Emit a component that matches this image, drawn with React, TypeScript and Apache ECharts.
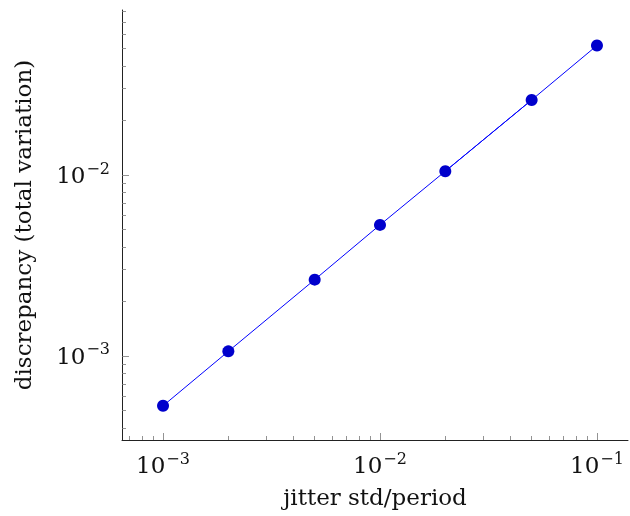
import React, { useEffect, useRef } from "react";
import * as echarts from "echarts";

const X_VALUES = [0.001, 0.002, 0.005, 0.01, 0.02, 0.05, 0.1];
const Y_VALUES = [5.3e-4, 1.06e-3, 2.64e-3, 5.3e-3, 1.05e-2, 2.6e-2, 5.2e-2];
const OVERLAP_X = [0.02, 0.05];
const OVERLAP_Y = [1.05e-2, 2.6e-2];

const X_MIN = 6.47e-4;
const X_MAX = 0.139;
const Y_MIN = 3.43e-4;
const Y_MAX = 0.0817;

const X_MAJOR = [1e-3, 1e-2, 1e-1];
const Y_MAJOR = [1e-3, 1e-2];
const X_MINOR = [7e-4, 8e-4, 9e-4, 2e-3, 3e-3, 4e-3, 5e-3, 6e-3, 7e-3, 8e-3, 9e-3, 2e-2, 3e-2, 4e-2, 5e-2, 6e-2, 7e-2, 8e-2, 9e-2];
const Y_MINOR = [4e-4, 5e-4, 6e-4, 7e-4, 8e-4, 9e-4, 2e-3, 3e-3, 4e-3, 5e-3, 6e-3, 7e-3, 8e-3, 9e-3, 2e-2, 3e-2, 4e-2, 5e-2, 6e-2, 7e-2, 8e-2];

const X_TITLE = "jitter std/period";
const Y_TITLE = "discrepancy (total variation)";

const FONT = "DejaVu Serif";

function powLabel(v: number) {
  const e = Math.round(Math.log10(v));
  return `{b|10}{s|${e < 0 ? "\u2212" : ""}${Math.abs(e)}}`;
}

const rich = {
  b: { fontFamily: FONT, fontSize: 23, color: "#111", lineHeight: 30 },
  s: { fontFamily: FONT, fontSize: 16, color: "#111", verticalAlign: "top", lineHeight: 30, padding: [0, 0, 12, 1] },
};

export default function App() {
  const ref = useRef<HTMLDivElement>(null);
  useEffect(() => {
    if (!ref.current) return;
    const chart = echarts.init(ref.current, undefined, { renderer: "svg" });
    const pairs = X_VALUES.map((x, i) => [x, Y_VALUES[i]]);
    const overlap = OVERLAP_X.map((x, i) => [x, OVERLAP_Y[i]]);
    const axisLineStyle = { color: "#222", width: 1 };
    const tickStyle = { color: "#777", width: 0.8 };
    chart.setOption({
      animation: false,
      grid: { left: 122, top: 10, right: 2, bottom: 76, containLabel: false, outerBoundsMode: "none" },
      xAxis: [
        {
          type: "log",
          logBase: 10,
          min: X_MIN,
          max: X_MAX,
          position: "bottom",
          name: X_TITLE,
          nameLocation: "middle",
          nameGap: 45,
          nameMoveOverlap: false,
          nameTextStyle: { fontFamily: FONT, fontSize: 23, color: "#111", verticalAlign: "top" },
          axisLine: { show: true, lineStyle: axisLineStyle },
          axisTick: { show: true, inside: true, length: 7, customValues: X_MAJOR, lineStyle: tickStyle },
          axisLabel: { show: true, customValues: X_MAJOR, formatter: powLabel, rich, margin: 10 },
          splitLine: { show: false },
          minorTick: { show: false },
        },
        {
          type: "log",
          logBase: 10,
          min: X_MIN,
          max: X_MAX,
          position: "bottom",
          axisLine: { show: false },
          axisTick: { show: true, inside: true, length: 4, customValues: X_MINOR, lineStyle: tickStyle },
          axisLabel: { show: false },
          splitLine: { show: false },
        },
      ],
      yAxis: [
        {
          type: "log",
          logBase: 10,
          min: Y_MIN,
          max: Y_MAX,
          position: "left",
          name: Y_TITLE,
          nameLocation: "middle",
          nameGap: 88,
          nameMoveOverlap: false,
          nameTextStyle: { fontFamily: FONT, fontSize: 23, color: "#111" },
          axisLine: { show: true, lineStyle: axisLineStyle },
          axisTick: { show: true, inside: true, length: 7, customValues: Y_MAJOR, lineStyle: tickStyle },
          axisLabel: { show: true, customValues: Y_MAJOR, formatter: powLabel, rich, margin: 12 },
          splitLine: { show: false },
          minorTick: { show: false },
        },
        {
          type: "log",
          logBase: 10,
          min: Y_MIN,
          max: Y_MAX,
          position: "left",
          axisLine: { show: false },
          axisTick: { show: true, inside: true, length: 4, customValues: Y_MINOR, lineStyle: tickStyle },
          axisLabel: { show: false },
          splitLine: { show: false },
        },
      ],
      series: [
        {
          type: "line",
          xAxisIndex: 0,
          yAxisIndex: 0,
          data: pairs,
          symbol: "circle",
          symbolSize: 12,
          lineStyle: { color: "#0000ff", width: 1 },
          itemStyle: { color: "#0000cc" },
          z: 3,
        },
        {
          type: "line",
          xAxisIndex: 0,
          yAxisIndex: 0,
          data: overlap,
          symbol: "none",
          lineStyle: { color: "#0000ff", width: 1 },
          z: 2,
        },
      ],
    });
    return () => chart.dispose();
  }, []);
  return <div ref={ref} style={{ position: "fixed", left: 0, top: 0, width: 630, height: 516 }} />;
}
